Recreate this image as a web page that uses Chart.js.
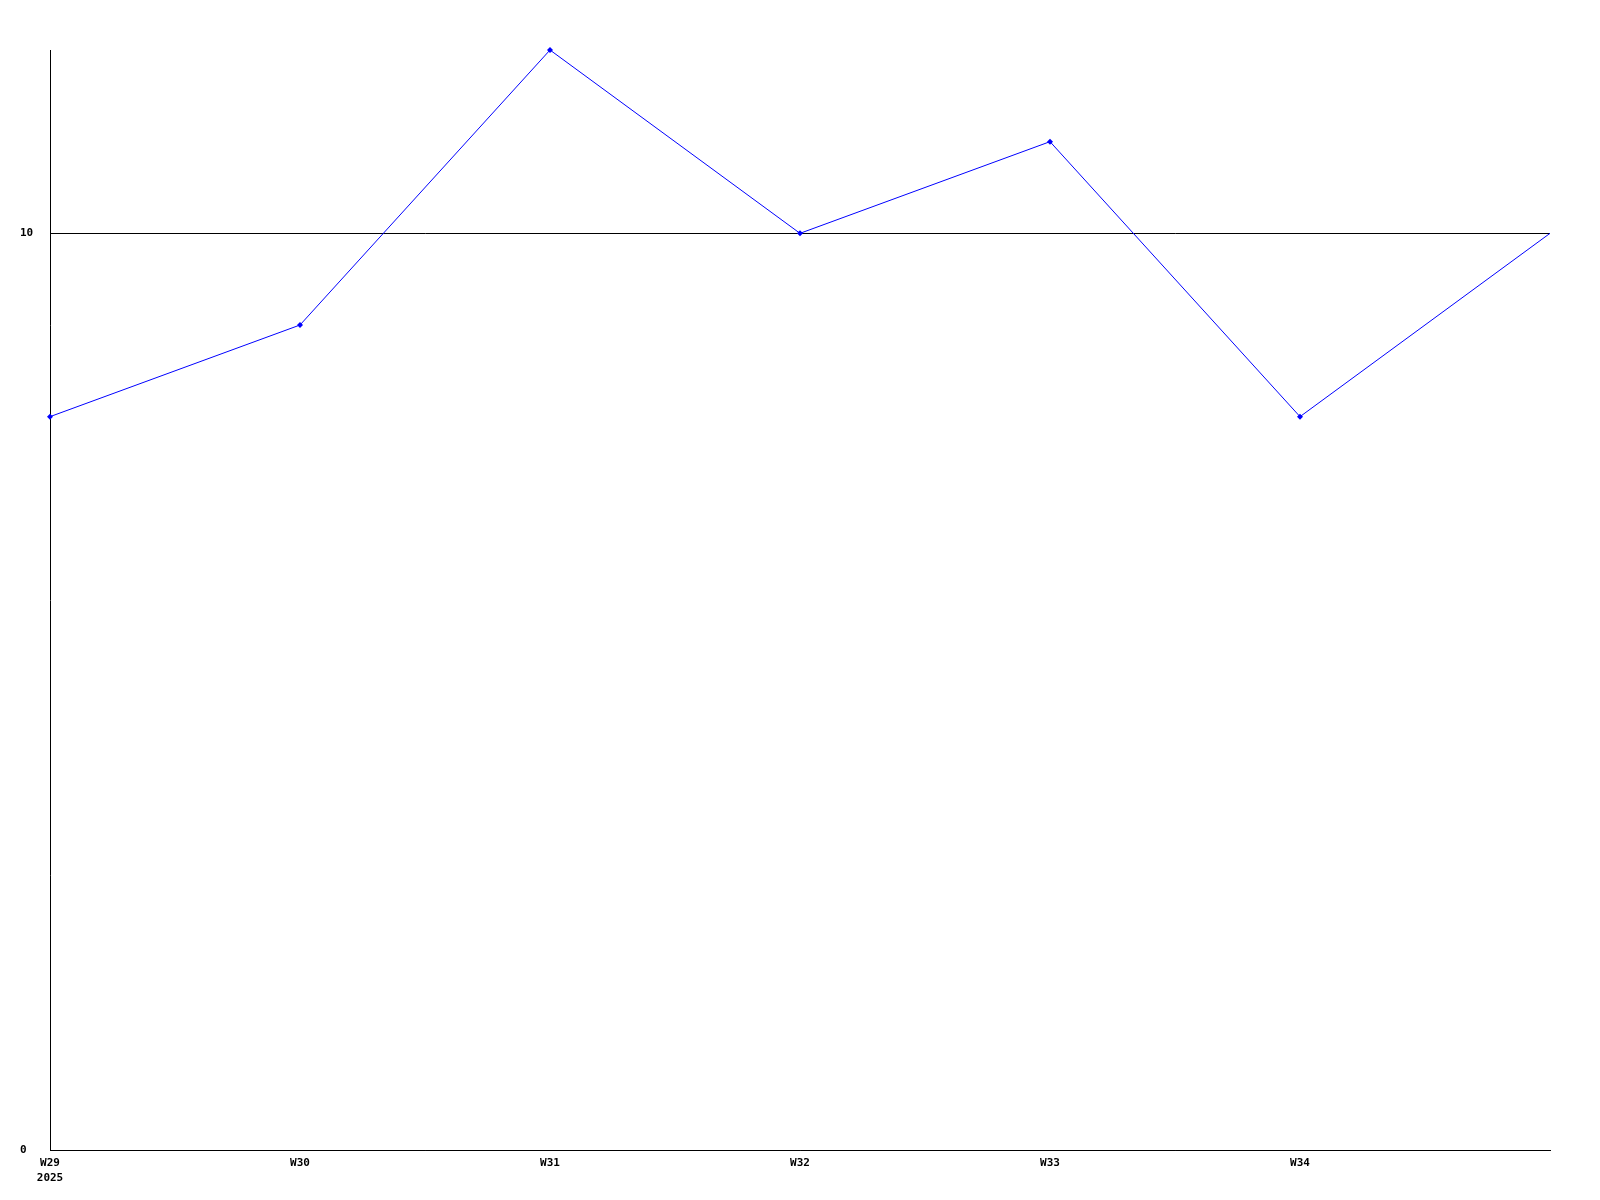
<!DOCTYPE html>
<html>
<head>
<meta charset="utf-8">
<script src="https://cdn.jsdelivr.net/npm/chart.js@4.4.1/dist/chart.umd.min.js"></script>
<style>
  body { margin: 0; background: #fff; }
  canvas { display: block; }
</style>
</head>
<body>
<canvas id="grafica" width="1600" height="1200"></canvas>
<script>
// datos
const semanas = ['W29', 'W30', 'W31', 'W32', 'W33', 'W34', ''];
const anio = '2025';
const valores = [8, 9, 12, 10, 11, 8, 10];
const marcasY = [0, 10];
const maxY = 12;

// etiquetas del eje x (la primera lleva el año debajo)
const etiquetas = semanas.map((s, i) => i === 0 ? [s, anio] : s);

const fuente = { family: 'DejaVu Sans Mono', size: 11, weight: 'bold', lineHeight: 1.35 };

const ctx = document.getElementById('grafica').getContext('2d');
new Chart(ctx, {
  type: 'line',
  data: {
    labels: etiquetas,
    datasets: [{
      data: valores,
      borderColor: '#0000ff',
      backgroundColor: '#0000ff',
      borderWidth: 1,
      tension: 0,
      pointStyle: 'rectRot',
      pointRadius: valores.map((v, i) => i === valores.length - 1 ? 0 : 3),
      pointBorderWidth: 0,
      clip: false
    }]
  },
  options: {
    responsive: false,
    devicePixelRatio: 1,
    animation: false,
    layout: { padding: { left: 20, right: 50, top: 50, bottom: 0 } },
    plugins: {
      legend: { display: false },
      tooltip: { enabled: false }
    },
    scales: {
      x: {
        offset: false,
        grid: { display: false, drawTicks: false },
        border: { display: true, color: '#000', width: 1 },
        ticks: {
          color: '#000',
          font: fuente,
          padding: 6,
          maxRotation: 0,
          autoSkip: false
        },
        afterFit: s => { s.height = 50; }
      },
      y: {
        min: 0,
        max: maxY,
        afterBuildTicks: s => { s.ticks = marcasY.map(v => ({ value: v })); },
        grid: { color: '#000', lineWidth: 1, drawTicks: false },
        border: { display: true, color: '#000', width: 1 },
        ticks: {
          color: '#000',
          font: fuente,
          crossAlign: 'far',
          padding: 0
        },
        afterFit: s => { s.width = 30; }
      }
    }
  }
});
</script>
</body>
</html>
